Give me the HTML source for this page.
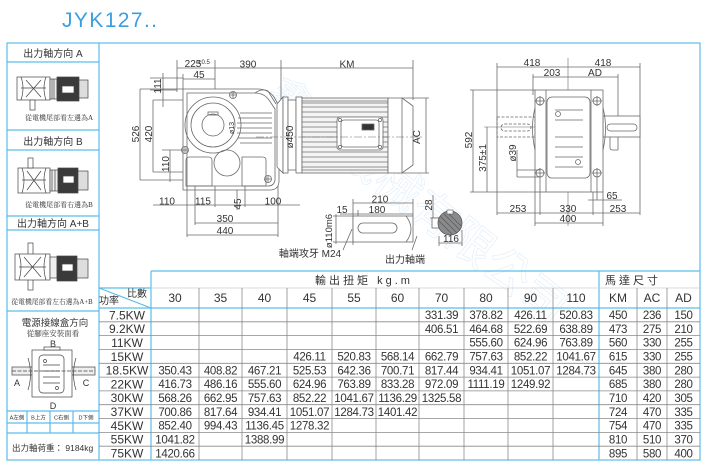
<!DOCTYPE html>
<html><head><meta charset="utf-8">
<style>
html,body{margin:0;padding:0;background:#fff;}
svg{display:block;}
text{font-family:"Liberation Sans","Noto Sans CJK TC",sans-serif;fill:#333;}
.s{font-family:"Liberation Serif","Noto Serif CJK SC",serif;}
</style></head><body>
<svg width="710" height="465" viewBox="0 0 710 465" xmlns="http://www.w3.org/2000/svg">
<rect width="710" height="465" fill="#fff"/>

<!-- Title -->
<text x="62" y="27" font-size="21" fill="#3a9fe0" style="fill:#3a9fe0" letter-spacing="1.4">JYK127..</text>

<!-- watermark (faint) -->
<g opacity="0.2" font-size="46" style="font-family:'Noto Sans CJK SC',sans-serif" fill="none" stroke="#7fb6e6" stroke-width="0.8">
<text x="0" y="0" transform="translate(262,100) rotate(38)" style="fill:none">鑫騰機械有限公司</text>
</g>

<!-- Outer frame -->
<g stroke="#5bbde9" stroke-width="1.2" fill="none">
<rect x="7" y="43" width="693" height="417"/>
<line x1="99" y1="43" x2="99" y2="460"/>
<line x1="7" y1="62" x2="99" y2="62"/>
<line x1="7" y1="130" x2="99" y2="130"/>
<line x1="7" y1="150" x2="99" y2="150"/>
<line x1="7" y1="216" x2="99" y2="216"/>
<line x1="7" y1="230" x2="99" y2="230"/>
<line x1="7" y1="311" x2="99" y2="311"/>
<line x1="7" y1="411" x2="99" y2="411"/>
<line x1="7" y1="423" x2="99" y2="423"/>
<line x1="7" y1="433" x2="99" y2="433"/>
<line x1="27" y1="411" x2="27" y2="433"/>
<line x1="50" y1="411" x2="50" y2="433"/>
<line x1="73" y1="411" x2="73" y2="433"/>
<!-- table blue lines -->
<line x1="151" y1="271" x2="700" y2="271"/>
<line x1="151" y1="271" x2="151" y2="460"/>
<line x1="599" y1="271" x2="599" y2="460"/>
<line x1="99" y1="288" x2="151" y2="288"/>
<line x1="99" y1="308" x2="700" y2="308"/>
<line x1="99" y1="288" x2="151" y2="308"/>
</g>

<!-- Table gray lines -->
<g stroke="#8a8a8a" stroke-width="0.8">
<line x1="151" y1="288" x2="599" y2="288" stroke="#cfcfcf"/>
<line x1="599" y1="288" x2="700" y2="288" stroke="#cfcfcf"/>
<line x1="199" y1="288" x2="199" y2="460"/>
<line x1="242" y1="288" x2="242" y2="460"/>
<line x1="287" y1="288" x2="287" y2="460"/>
<line x1="332" y1="288" x2="332" y2="460"/>
<line x1="376" y1="288" x2="376" y2="460"/>
<line x1="419" y1="288" x2="419" y2="460"/>
<line x1="464" y1="288" x2="464" y2="460"/>
<line x1="508" y1="288" x2="508" y2="460"/>
<line x1="553" y1="288" x2="553" y2="460"/>
<line x1="637" y1="288" x2="637" y2="460"/>
<line x1="667" y1="288" x2="667" y2="460"/>
<line x1="99" y1="321.8" x2="700" y2="321.8"/>
<line x1="99" y1="335.6" x2="700" y2="335.6"/>
<line x1="99" y1="349.5" x2="700" y2="349.5"/>
<line x1="99" y1="363.3" x2="700" y2="363.3"/>
<line x1="99" y1="377.1" x2="700" y2="377.1"/>
<line x1="99" y1="390.9" x2="700" y2="390.9"/>
<line x1="99" y1="404.7" x2="700" y2="404.7"/>
<line x1="99" y1="418.5" x2="700" y2="418.5"/>
<line x1="99" y1="432.4" x2="700" y2="432.4"/>
<line x1="99" y1="446.2" x2="700" y2="446.2"/>
</g>

<!-- Table headers -->
<text x="364" y="284" font-size="11" text-anchor="middle" letter-spacing="3">輸出扭矩 kg.m</text>
<text x="633" y="284" font-size="11" text-anchor="middle" letter-spacing="3">馬達尺寸</text>
<text x="137" y="297" font-size="10" text-anchor="middle">比數</text>
<text x="109" y="304" font-size="10" text-anchor="middle">功率</text>
<g font-size="12" text-anchor="middle">
<text x="175" y="302">30</text><text x="220.5" y="302">35</text><text x="264.5" y="302">40</text>
<text x="309.5" y="302">45</text><text x="354" y="302">55</text><text x="397.5" y="302">60</text>
<text x="441.5" y="302">70</text><text x="486" y="302">80</text><text x="530.5" y="302">90</text>
<text x="576" y="302">110</text><text x="618" y="302">KM</text><text x="652" y="302">AC</text><text x="683.5" y="302">AD</text>
</g>

<!-- Row labels -->
<g font-size="12" text-anchor="middle">
<text x="127" y="319.3">7.5KW</text>
<text x="127" y="333.1">9.2KW</text>
<text x="127" y="346.9">11KW</text>
<text x="127" y="360.8">15KW</text>
<text x="127" y="374.6">18.5KW</text>
<text x="127" y="388.4">22KW</text>
<text x="127" y="402.2">30KW</text>
<text x="127" y="416.0">37KW</text>
<text x="127" y="429.8">45KW</text>
<text x="127" y="443.7">55KW</text>
<text x="127" y="457.5">75KW</text>
</g>

<!-- Data -->
<g font-size="11.5" text-anchor="middle" letter-spacing="-0.3">
<text x="441.5" y="319.1">331.39</text><text x="486" y="319.1">378.82</text><text x="530.5" y="319.1">426.11</text><text x="576" y="319.1">520.83</text>
<text x="618" y="319.1">450</text><text x="652" y="319.1">236</text><text x="683.5" y="319.1">150</text>
<text x="441.5" y="332.9">406.51</text><text x="486" y="332.9">464.68</text><text x="530.5" y="332.9">522.69</text><text x="576" y="332.9">638.89</text>
<text x="618" y="332.9">473</text><text x="652" y="332.9">275</text><text x="683.5" y="332.9">210</text>
<text x="486" y="346.7">555.60</text><text x="530.5" y="346.7">624.96</text><text x="576" y="346.7">763.89</text>
<text x="618" y="346.7">560</text><text x="652" y="346.7">330</text><text x="683.5" y="346.7">255</text>
<text x="309.5" y="360.6">426.11</text><text x="354" y="360.6">520.83</text><text x="397.5" y="360.6">568.14</text>
<text x="441.5" y="360.6">662.79</text><text x="486" y="360.6">757.63</text><text x="530.5" y="360.6">852.22</text><text x="576" y="360.6">1041.67</text>
<text x="618" y="360.6">615</text><text x="652" y="360.6">330</text><text x="683.5" y="360.6">255</text>
<text x="175" y="374.4">350.43</text><text x="220.5" y="374.4">408.82</text><text x="264.5" y="374.4">467.21</text>
<text x="309.5" y="374.4">525.53</text><text x="354" y="374.4">642.36</text><text x="397.5" y="374.4">700.71</text>
<text x="441.5" y="374.4">817.44</text><text x="486" y="374.4">934.41</text><text x="530.5" y="374.4">1051.07</text><text x="576" y="374.4">1284.73</text>
<text x="618" y="374.4">645</text><text x="652" y="374.4">380</text><text x="683.5" y="374.4">280</text>
<text x="175" y="388.2">416.73</text><text x="220.5" y="388.2">486.16</text><text x="264.5" y="388.2">555.60</text>
<text x="309.5" y="388.2">624.96</text><text x="354" y="388.2">763.89</text><text x="397.5" y="388.2">833.28</text>
<text x="441.5" y="388.2">972.09</text><text x="486" y="388.2">1111.19</text><text x="530.5" y="388.2">1249.92</text>
<text x="618" y="388.2">685</text><text x="652" y="388.2">380</text><text x="683.5" y="388.2">280</text>
<text x="175" y="402.0">568.26</text><text x="220.5" y="402.0">662.95</text><text x="264.5" y="402.0">757.63</text>
<text x="309.5" y="402.0">852.22</text><text x="354" y="402.0">1041.67</text><text x="397.5" y="402.0">1136.29</text>
<text x="441.5" y="402.0">1325.58</text>
<text x="618" y="402.0">710</text><text x="652" y="402.0">420</text><text x="683.5" y="402.0">305</text>
<text x="175" y="415.8">700.86</text><text x="220.5" y="415.8">817.64</text><text x="264.5" y="415.8">934.41</text>
<text x="309.5" y="415.8">1051.07</text><text x="354" y="415.8">1284.73</text><text x="397.5" y="415.8">1401.42</text>
<text x="618" y="415.8">724</text><text x="652" y="415.8">470</text><text x="683.5" y="415.8">335</text>
<text x="175" y="429.6">852.40</text><text x="220.5" y="429.6">994.43</text><text x="264.5" y="429.6">1136.45</text>
<text x="309.5" y="429.6">1278.32</text>
<text x="618" y="429.6">754</text><text x="652" y="429.6">470</text><text x="683.5" y="429.6">335</text>
<text x="175" y="443.5">1041.82</text><text x="264.5" y="443.5">1388.99</text>
<text x="618" y="443.5">810</text><text x="652" y="443.5">510</text><text x="683.5" y="443.5">370</text>
<text x="175" y="457.3">1420.66</text>
<text x="618" y="457.3">895</text><text x="652" y="457.3">580</text><text x="683.5" y="457.3">400</text>
</g>

<!-- Left panel texts -->
<g font-size="10" text-anchor="middle">
<text x="53" y="57">出力軸方向 A</text>
<text x="53" y="145">出力軸方向 B</text>
<text x="53" y="227">出力軸方向 A+B</text>
<text x="55" y="326" font-size="9.5">電源接線盒方向</text>
</g>
<g font-size="7" text-anchor="middle" class="s">
<text x="59" y="120" class="s">從電機尾部看左邊為A</text>
<text x="59" y="207" class="s">從電機尾部看右邊為B</text>
<text x="52" y="304" class="s" font-size="6.8">從電機尾部看左右邊為A+B</text>
<text x="53" y="336" class="s" font-size="7.5">從腳座安裝面看</text>
</g>
<g font-size="9" text-anchor="middle">
<text x="53" y="347">B</text>
<text x="17" y="386">A</text>
<text x="86" y="386">C</text>
<text x="53" y="409">D</text>
</g>
<g font-size="5.5" text-anchor="middle">
<text x="17" y="419.5">A左側</text>
<text x="38.5" y="419.5">B上方</text>
<text x="61.5" y="419.5">C右側</text>
<text x="86" y="419.5">D下側</text>
</g>
<text x="12" y="451" font-size="8.5">出力軸荷重：  9184kg</text>

<!-- Left panel pictograms -->
<g stroke="#444" stroke-width="0.7" fill="none">
<rect x="17" y="77" width="33" height="23" fill="#fff"/>
<path d="M21,77 Q25,88 21,100 M46,77 Q42,88 46,100 M21,88 L46,88 M26,80 L41,97 M26,97 L41,80"/>
<rect x="50" y="79" width="7" height="20" fill="#eee"/>
<path d="M52,79 V99 M54,79 V99"/>
<rect x="57" y="77" width="22" height="24" fill="#3a3a3a"/>
<rect x="62" y="86" width="12" height="7" fill="#fff"/>
<rect x="79" y="80" width="9" height="18" fill="#ddd"/>
<rect x="30" y="100" width="5" height="10" fill="#fff"/>
<rect x="18" y="168" width="32" height="25" fill="#fff"/>
<path d="M22,168 Q26,180 22,193 M46,168 Q42,180 46,193 M22,180 L46,180 M27,171 L41,190 M27,190 L41,171"/>
<rect x="50" y="170" width="8" height="21" fill="#eee"/>
<path d="M52,170 V191 M55,170 V191"/>
<rect x="58" y="168" width="20" height="25" fill="#3a3a3a"/>
<rect x="63" y="176" width="11" height="7" fill="#fff"/>
<rect x="78" y="171" width="10" height="19" fill="#ddd"/>
<rect x="28" y="158" width="5" height="10" fill="#fff"/>
<rect x="28" y="243" width="5" height="47" fill="#fff"/>
<rect x="15" y="254" width="35" height="26" fill="#fff"/>
<path d="M19,254 Q23,267 19,280 M46,254 Q42,267 46,280 M19,267 L46,267 M24,257 L41,277 M24,277 L41,257"/>
<rect x="50" y="257" width="7" height="21" fill="#eee"/>
<rect x="57" y="256" width="20" height="25" fill="#3a3a3a"/>
<rect x="62" y="264" width="11" height="7" fill="#fff"/>
<rect x="77" y="259" width="11" height="19" fill="#ddd"/>
<rect x="12" y="367" width="83" height="8" fill="#eee"/>
<rect x="32" y="350" width="40" height="47" fill="#fff"/>
<rect x="44" y="347" width="16" height="3" fill="#fff"/>
<path d="M28,358 Q33,374 28,390 M76,358 Q71,374 76,390"/>
<rect x="39" y="355" width="25" height="38" rx="4" fill="#fff"/>
<path d="M43,365 H60 M43,371 H60 M43,377 H60 M43,383 H60"/>
<circle cx="45" cy="361" r="1.5"/><circle cx="57" cy="388" r="1.5"/>
<path d="M12,371 H95" stroke-dasharray="4 1.5"/>
</g>

<!-- ========== Main drawing ========== -->
<g stroke="#6a6a6a" stroke-width="0.8" fill="none">
<line x1="177" y1="68" x2="413" y2="68"/>
<line x1="177" y1="60" x2="177" y2="92"/>
<line x1="215" y1="60" x2="215" y2="94"/>
<line x1="281" y1="60" x2="281" y2="100"/>
<line x1="413" y1="60" x2="413" y2="100"/>
<line x1="183" y1="79" x2="215" y2="79"/>
<line x1="183" y1="74" x2="183" y2="89"/>
<line x1="163" y1="73" x2="163" y2="107"/>
<line x1="150" y1="78" x2="183" y2="78"/>
<line x1="150" y1="90" x2="177" y2="90"/>
<line x1="140" y1="89" x2="183" y2="89"/>
<line x1="140" y1="89" x2="140" y2="180"/>
<line x1="140" y1="180" x2="183" y2="180"/>
<line x1="153" y1="100" x2="183" y2="100"/>
<line x1="153" y1="100" x2="153" y2="172"/>
<line x1="153" y1="172" x2="183" y2="172"/>
<line x1="170" y1="150" x2="170" y2="182"/>
<line x1="162" y1="150" x2="185" y2="150"/>

<path d="M183,89 L258,89 Q268,89 274,97 L279,106 L279,182 Q278,190 270,190 L183,190 Z" fill="#fff"/>
<path d="M187,93 L255,93 Q264,93 269,100 L275,109 L275,180 Q274,186 268,186 L187,186 Z"/>
<path d="M255,93 Q262,88 268,91 L276,104"/>
<circle cx="213" cy="125" r="28"/>
<circle cx="213" cy="125" r="22"/>
<circle cx="213" cy="125" r="11"/>
<rect x="208" y="112" width="10" height="3"/>
<circle cx="227" cy="163" r="13"/>
<path d="M240,113 H272 M238,118 H272 M237,123 H272 M237,128 H272 M237,133 H272 M238,138 H272 M240,143 H272"/>
<path d="M186,160 Q186,157 190,157 L208,157 Q212,157 212,160 L212,186 L186,186 Z"/>
<path d="M242,157 L262,157 Q266,157 266,160 L266,186 L242,186 Z"/>
<circle cx="233" cy="95" r="3.5"/><circle cx="185" cy="150" r="3.5"/><circle cx="268" cy="179" r="3.5"/>
<path d="M230,95 H236 M233,92 V98 M182,150 H188 M185,147 V153 M265,179 H271 M268,176 V182"/>
<path d="M277,104 L283,97 L283,173 L277,167 Z" fill="#fff"/>
<rect x="283" y="97" width="5" height="76" fill="#fff"/>
<rect x="288" y="100" width="8" height="70" fill="#fff"/>
<rect x="296" y="97" width="6" height="76" fill="#fff"/>
<rect x="302" y="98" width="86" height="75" fill="#f4f4f4"/>
</g>
<g stroke="#6e6e6e" stroke-width="0.7">
<path d="M302,101H388M302,103H388M302,107H388M302,112H388M302,117H388M302,122H388M302,127H388M302,132H388M302,137H388M302,142H388M302,147H388M302,152H388M302,157H388M302,162H388M302,167H388M302,170H388"/>
</g>
<g stroke="#6a6a6a" stroke-width="0.8" fill="none">
<rect x="337" y="117" width="46" height="33" rx="3" fill="#fff"/>
<rect x="341" y="120" width="38" height="27" rx="3"/>
<circle cx="340" cy="120" r="1.6"/><circle cx="380" cy="120" r="1.6"/><circle cx="340" cy="147" r="1.6"/><circle cx="380" cy="147" r="1.6"/>
<rect x="362" y="124" width="12" height="6" fill="#333"/>
<path d="M388,98 L402,98 L413,106 L413,165 L402,173 L388,173 Z" fill="#fff"/>
<line x1="402" y1="98" x2="402" y2="173"/>
<line x1="426" y1="98" x2="426" y2="173"/>
<line x1="402" y1="98" x2="429" y2="98"/>
<line x1="402" y1="173" x2="429" y2="173"/>
<line x1="256" y1="137" x2="424" y2="137" stroke-dasharray="8 2 2 2" stroke-width="0.6"/>
<line x1="153" y1="205" x2="300" y2="205"/>
<line x1="187" y1="186" x2="187" y2="237"/>
<line x1="195" y1="186" x2="195" y2="225"/>
<line x1="215" y1="186" x2="215" y2="207"/>
<line x1="237" y1="190" x2="237" y2="210"/>
<line x1="245" y1="186" x2="245" y2="207"/>
<line x1="278" y1="186" x2="278" y2="237"/>
<line x1="195" y1="223" x2="278" y2="223"/>
<line x1="187" y1="235" x2="278" y2="235"/>
<line x1="353" y1="203" x2="413" y2="203"/>
<line x1="340" y1="214" x2="413" y2="214"/>
<line x1="353" y1="199" x2="353" y2="245"/>
<line x1="358" y1="210" x2="358" y2="216"/>
<line x1="413" y1="199" x2="413" y2="216"/>
<rect x="353" y="216" width="60" height="26" fill="#fff"/>
<rect x="358" y="223" width="39" height="10" rx="5"/>
<path d="M406,216 Q416,229 406,242"/>
<line x1="333" y1="216" x2="353" y2="216"/>
<line x1="333" y1="242" x2="353" y2="242"/>
<line x1="336" y1="214" x2="336" y2="244"/>
<path d="M343,250 L352,229"/>
<path d="M412,250 L417,236"/>
<line x1="433" y1="195" x2="433" y2="218"/>
<line x1="430" y1="218" x2="442" y2="218"/>
<rect x="432" y="218" width="8" height="10" fill="#fff"/>
<line x1="439" y1="236" x2="439" y2="246"/>
<line x1="462" y1="230" x2="462" y2="246"/>
<line x1="439" y1="243" x2="462" y2="243"/>
</g>
<circle cx="450" cy="223" r="12" fill="#8a8a8a" stroke="#555" stroke-width="0.8"/>
<path d="M440,216 L457,233 M443,213 L460,230 M439,221 L452,234 M447,212 L461,226" stroke="#555" stroke-width="0.6"/>
<rect x="447" y="210" width="6" height="4" fill="#fff" stroke="#555" stroke-width="0.6"/>

<!-- ========== Right end view ========== -->
<g stroke="#6a6a6a" stroke-width="0.8" fill="none">
<line x1="497" y1="67" x2="640" y2="67"/>
<line x1="497" y1="63" x2="497" y2="215"/>
<line x1="640" y1="63" x2="640" y2="215"/>
<line x1="568" y1="58" x2="568" y2="226" stroke-width="0.6"/>
<line x1="533" y1="77" x2="618" y2="77"/>
<line x1="533" y1="74" x2="533" y2="95"/>
<line x1="618" y1="74" x2="618" y2="150"/>
<line x1="473" y1="90" x2="473" y2="192"/>
<line x1="470" y1="90" x2="535" y2="90"/>
<line x1="470" y1="192" x2="535" y2="192"/>
<line x1="487" y1="127" x2="487" y2="192"/>
<line x1="484" y1="127" x2="640" y2="127" stroke-width="0.6"/>
<rect x="497" y="117" width="38" height="20" stroke-dasharray="3 1.5"/>
<rect x="501" y="124" width="30" height="7" rx="3.5" stroke-dasharray="3 1.5"/>
<rect x="603" y="116" width="37" height="21" fill="#fff"/>
<rect x="607" y="124" width="30" height="7" rx="3.5"/>
<path d="M610,137 V148 Q610,150 613,150 H618"/>
<rect x="535" y="90" width="68" height="102" fill="#fff"/>
<line x1="546" y1="90" x2="546" y2="192"/>
<line x1="591" y1="90" x2="591" y2="192"/>
<path d="M535,108 Q530,127 535,150 M603,108 Q608,127 603,150"/>
<rect x="547" y="97" width="43" height="81" rx="5" fill="#fff"/>
<path d="M555,110H583M555,120H583M555,137H583M555,147H583M555,157H583M555,167H583"/>
<circle cx="558" cy="114" r="2.5"/><circle cx="578" cy="162" r="2.5"/>
<circle cx="540" cy="101" r="4"/><circle cx="597" cy="101" r="4"/><circle cx="540" cy="173" r="4"/><circle cx="597" cy="173" r="4"/>
<path d="M535,101H545M540,96V106M592,101H602M597,96V106M535,173H545M540,168V178M592,173H602M597,168V178"/>
<path d="M517,150 V177 M517,170 H540 M517,177 H540"/>
<line x1="593" y1="192" x2="593" y2="215"/>
<line x1="603" y1="192" x2="603" y2="226"/>
<line x1="535" y1="192" x2="535" y2="226"/>
<line x1="540" y1="178" x2="540" y2="215"/>
<line x1="597" y1="178" x2="597" y2="200"/>
<line x1="588" y1="200" x2="622" y2="200"/>
<line x1="497" y1="213" x2="640" y2="213"/>
<line x1="535" y1="223" x2="603" y2="223"/>
</g>

<!-- Dimension texts -->
<g font-size="10" fill="#333" text-anchor="middle">
<text x="193" y="67">225</text>
<text x="204" y="64" font-size="6">±0.5</text>
<text x="248" y="67.5">390</text>
<text x="347" y="67.5">KM</text>
<text x="199" y="78">45</text>
<text transform="translate(161,86) rotate(-90)">111</text>
<text transform="translate(139,134) rotate(-90)">526</text>
<text transform="translate(152,134) rotate(-90)">420</text>
<text transform="translate(169,164) rotate(-90)">110</text>
<text x="167" y="204.5">110</text>
<text x="203" y="204.5">115</text>
<text transform="translate(241,204) rotate(-90)">45</text>
<text x="273" y="204.5">100</text>
<text x="225" y="222">350</text>
<text x="225" y="234">440</text>
<text transform="translate(293,137) rotate(-90)">ø450</text>
<text transform="translate(420,137) rotate(-90)">AC</text>
<text transform="translate(234,128) rotate(-90)" font-size="7">ø13</text>
<text x="380" y="202.5">210</text>
<text x="342" y="213">15</text>
<text x="377" y="213">180</text>
<text transform="translate(332,231) rotate(-90)" font-size="9.5">ø110m6</text>
<text x="310" y="257">軸端攻牙 M24</text>
<text x="405" y="263">出力軸端</text>
<text transform="translate(432,205) rotate(-90)">28</text>
<text x="451" y="242">116</text>
<text x="532" y="66">418</text>
<text x="603" y="66">418</text>
<text x="552" y="76">203</text>
<text x="595" y="76">AD</text>
<text transform="translate(472,140) rotate(-90)">592</text>
<text transform="translate(486,158) rotate(-90)">375±1</text>
<text transform="translate(516,153) rotate(-90)">ø39</text>
<text x="612" y="199">65</text>
<text x="518" y="212">253</text>
<text x="568" y="212">330</text>
<text x="618" y="212">253</text>
<text x="568" y="222">400</text>
</g>
</svg>
</body></html>
